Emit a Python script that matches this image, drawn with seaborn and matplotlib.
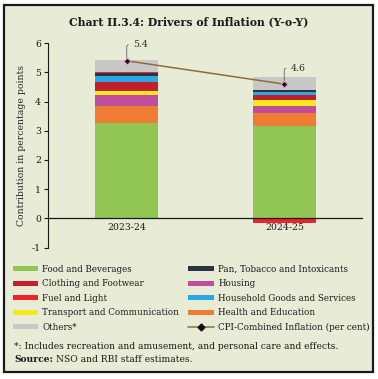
import numpy as np
import pandas as pd
import matplotlib
matplotlib.use("Agg")
import matplotlib.pyplot as plt
from matplotlib.patches import Patch, Rectangle
from matplotlib.lines import Line2D
import seaborn as sns

# data
years = ["2023-24", "2024-25"]
food = [3.28, 3.17]
health_edu = [0.57, 0.43]
housing = [0.38, 0.25]
transport = [0.15, 0.20]
clothing = [0.31, 0.17]
household = [0.19, 0.11]
pan_tobacco = [0.09, 0.06]
fuel = [0.05, -0.15]
others = [0.41, 0.44]
cpi = [5.4, 4.6]
cpi_labels = ["5.4", "4.6"]

# stacking order bottom -> top
comps = [
    ("Food and Beverages", food, "#92C654"),
    ("Health and Education", health_edu, "#EE7D33"),
    ("Housing", housing, "#C04C9C"),
    ("Transport and Communication", transport, "#F5E81B"),
    ("Clothing and Footwear", clothing, "#C21F2D"),
    ("Household Goods and Services", household, "#2AA9E0"),
    ("Pan, Tobacco and Intoxicants", pan_tobacco, "#2C3443"),
    ("Fuel and Light", fuel, "#EE2428"),
    ("Others*", others, "#C8C8C8"),
]
colors = {n: c for n, _, c in comps}

bg = "#E8EBD6"
sns.set_style("white")
plt.rcParams["font.family"] = ["DejaVu Serif"]
plt.rcParams["axes.unicode_minus"] = False

fig = plt.figure(figsize=(3.78, 3.79), dpi=100)
fig.patch.set_facecolor("white")
fig.patches.append(Rectangle((4 / 378, 1 - 372 / 379), 369 / 378, 367 / 379,
                             transform=fig.transFigure, facecolor=bg,
                             edgecolor="#1a1a1a", linewidth=1.6, zorder=-5))

ax = fig.add_axes([48 / 378, 1 - 247.5 / 379, 315 / 378, 204.2 / 379])
ax.set_facecolor("none")

x = np.arange(len(years))
pos_base = np.zeros(len(years))
neg_base = np.zeros(len(years))
for name, vals, col in comps:
    vals = np.array(vals)
    bottoms = np.where(vals >= 0, pos_base, neg_base)
    ax.bar(x, vals, width=0.4, bottom=bottoms, color=col, linewidth=0, zorder=2)
    pos_base += np.where(vals >= 0, vals, 0)
    neg_base += np.where(vals < 0, vals, 0)

cpi_df = pd.DataFrame({"x": x, "cpi": cpi})
sns.lineplot(data=cpi_df, x="x", y="cpi", ax=ax, color="#8C6D3A", lw=1.1,
             marker="D", markersize=3.5, markerfacecolor="#111111",
             markeredgecolor="#E79BC6", markeredgewidth=0.8, zorder=4)

for xi, yv, lab in zip(x, cpi, cpi_labels):
    ax.annotate(lab, xy=(xi, yv), xytext=(xi + 0.04, yv + 0.55),
                fontsize=6.7, color="#333333", va="center", ha="left",
                arrowprops=dict(arrowstyle="-", color="#666666", lw=0.6,
                                connectionstyle="angle,angleA=0,angleB=90,rad=2",
                                shrinkA=1, shrinkB=2))

ax.set_xlim(-0.5, 1.5)
ax.set_ylim(-1, 6)
ax.set_yticks(range(-1, 7))
ax.axhline(0, color="#1a1a1a", lw=0.9, zorder=3)
for s in ["top", "right", "bottom"]:
    ax.spines[s].set_visible(False)
ax.spines["left"].set_color("#1a1a1a")
ax.spines["left"].set_linewidth(0.8)
ax.tick_params(axis="y", left=True, length=3, width=0.8, labelsize=6.7,
               colors="#1a1a1a", pad=2)
ax.set_xticks([])
ax.set_xlabel("")
ax.set_ylabel("Contribution in percentage points", fontsize=6.7, labelpad=4)
for xi, yr in zip(x, years):
    ax.text(xi, -0.17, yr, ha="center", va="top", fontsize=6.7, color="#1a1a1a")

fig.text(0.5, 1 - 21.5 / 379, "Chart II.3.4: Drivers of Inflation (Y-o-Y)",
         ha="center", va="center", fontsize=7.8, fontweight="bold", color="#1a1a1a")

# legend, two columns
col1 = ["Food and Beverages", "Clothing and Footwear", "Fuel and Light",
        "Transport and Communication", "Others*"]
col2 = ["Pan, Tobacco and Intoxicants", "Housing", "Household Goods and Services",
        "Health and Education"]
handles, labels = [], []
for i in range(5):
    handles.append(Patch(facecolor=colors[col1[i]], edgecolor="none"))
    labels.append(col1[i])
    if i < 4:
        handles.append(Patch(facecolor=colors[col2[i]], edgecolor="none"))
        labels.append(col2[i])
    else:
        handles.append(Line2D([0], [0], color="#8C6D3A", lw=1.1, marker="D",
                              markersize=3.5, markerfacecolor="#111111",
                              markeredgecolor="#111111"))
        labels.append("CPI-Combined Inflation (per cent)")
order = list(range(0, 10, 2)) + list(range(1, 10, 2))
leg = fig.legend([handles[i] for i in order], [labels[i] for i in order],
                 ncol=2, loc="upper left", bbox_to_anchor=(12.5 / 378, 1 - 265 / 379),
                 frameon=False, fontsize=6.35, handlelength=2.9, handleheight=0.5,
                 handletextpad=0.5, columnspacing=1.0, labelspacing=0.62,
                 borderaxespad=0, borderpad=0)
for t in leg.get_texts():
    t.set_color("#1a1a1a")

fig.text(14 / 378, 1 - 346.5 / 379,
         "*: Includes recreation and amusement, and personal care and effects.",
         fontsize=6.6, va="center", ha="left", color="#1a1a1a")
src = fig.text(14 / 378, 1 - 359 / 379, "Source:", fontsize=6.6, fontweight="bold",
               va="center", ha="left", color="#1a1a1a")
fig.canvas.draw()
bb = src.get_window_extent()
fig.text((bb.x1 + 3) / 378, 1 - 359 / 379, "NSO and RBI staff estimates.",
         fontsize=6.6, va="center", ha="left", color="#1a1a1a")

fig.savefig("out.png", dpi=100, facecolor=fig.get_facecolor())
